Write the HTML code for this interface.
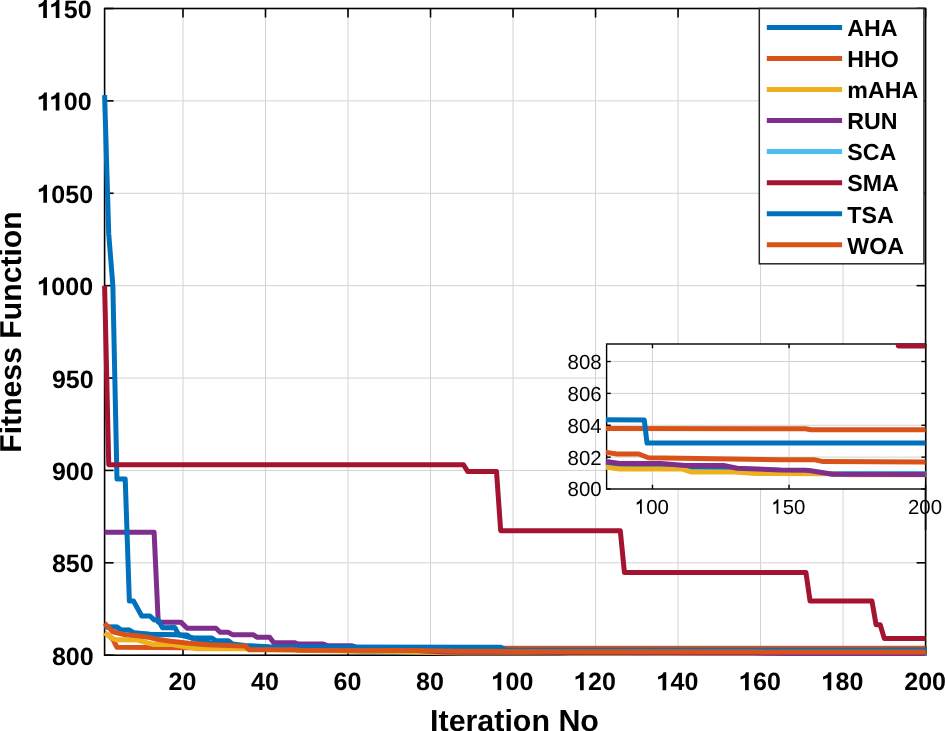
<!DOCTYPE html><html><head><meta charset="utf-8"><style>
html,body{margin:0;padding:0;background:#fff;width:945px;height:731px;overflow:hidden}
svg{display:block;will-change:transform}
text{font-family:"Liberation Sans",sans-serif;text-rendering:geometricPrecision}
.tk{font-weight:bold;font-size:25px;fill:#000}
.lg{font-weight:bold;font-size:23.2px;fill:#000}
.lb{font-weight:bold;font-size:30.4px;fill:#000}
.it{font-size:20.4px;fill:#000}
</style></head><body>
<svg width="945" height="731" viewBox="0 0 945 731">
<rect x="0" y="0" width="945" height="731" fill="#fff"/>
<defs><clipPath id="cm"><rect x="104.60" y="8.50" width="821.00" height="646.70"/></clipPath>
<clipPath id="ci"><rect x="605.90" y="343.20" width="320.40" height="146.60"/></clipPath></defs>
<line x1="182.99" y1="8.50" x2="182.99" y2="655.20" stroke="#d2d2d2" stroke-width="1"/>
<line x1="265.50" y1="8.50" x2="265.50" y2="655.20" stroke="#d2d2d2" stroke-width="1"/>
<line x1="348.01" y1="8.50" x2="348.01" y2="655.20" stroke="#d2d2d2" stroke-width="1"/>
<line x1="430.52" y1="8.50" x2="430.52" y2="655.20" stroke="#d2d2d2" stroke-width="1"/>
<line x1="513.04" y1="8.50" x2="513.04" y2="655.20" stroke="#d2d2d2" stroke-width="1"/>
<line x1="595.55" y1="8.50" x2="595.55" y2="655.20" stroke="#d2d2d2" stroke-width="1"/>
<line x1="678.06" y1="8.50" x2="678.06" y2="655.20" stroke="#d2d2d2" stroke-width="1"/>
<line x1="760.57" y1="8.50" x2="760.57" y2="655.20" stroke="#d2d2d2" stroke-width="1"/>
<line x1="843.09" y1="8.50" x2="843.09" y2="655.20" stroke="#d2d2d2" stroke-width="1"/>
<line x1="104.60" y1="562.81" x2="925.60" y2="562.81" stroke="#d2d2d2" stroke-width="1"/>
<line x1="104.60" y1="470.43" x2="925.60" y2="470.43" stroke="#d2d2d2" stroke-width="1"/>
<line x1="104.60" y1="378.04" x2="925.60" y2="378.04" stroke="#d2d2d2" stroke-width="1"/>
<line x1="104.60" y1="285.66" x2="925.60" y2="285.66" stroke="#d2d2d2" stroke-width="1"/>
<line x1="104.60" y1="193.27" x2="925.60" y2="193.27" stroke="#d2d2d2" stroke-width="1"/>
<line x1="104.60" y1="100.89" x2="925.60" y2="100.89" stroke="#d2d2d2" stroke-width="1"/>
<g stroke="#000" stroke-width="1.6" fill="none">
<rect x="104.60" y="8.50" width="821.00" height="646.70"/>
<line x1="182.99" y1="655.20" x2="182.99" y2="646.20"/>
<line x1="182.99" y1="8.50" x2="182.99" y2="17.50"/>
<line x1="265.50" y1="655.20" x2="265.50" y2="646.20"/>
<line x1="265.50" y1="8.50" x2="265.50" y2="17.50"/>
<line x1="348.01" y1="655.20" x2="348.01" y2="646.20"/>
<line x1="348.01" y1="8.50" x2="348.01" y2="17.50"/>
<line x1="430.52" y1="655.20" x2="430.52" y2="646.20"/>
<line x1="430.52" y1="8.50" x2="430.52" y2="17.50"/>
<line x1="513.04" y1="655.20" x2="513.04" y2="646.20"/>
<line x1="513.04" y1="8.50" x2="513.04" y2="17.50"/>
<line x1="595.55" y1="655.20" x2="595.55" y2="646.20"/>
<line x1="595.55" y1="8.50" x2="595.55" y2="17.50"/>
<line x1="678.06" y1="655.20" x2="678.06" y2="646.20"/>
<line x1="678.06" y1="8.50" x2="678.06" y2="17.50"/>
<line x1="760.57" y1="655.20" x2="760.57" y2="646.20"/>
<line x1="760.57" y1="8.50" x2="760.57" y2="17.50"/>
<line x1="843.09" y1="655.20" x2="843.09" y2="646.20"/>
<line x1="843.09" y1="8.50" x2="843.09" y2="17.50"/>
<line x1="925.60" y1="655.20" x2="925.60" y2="646.20"/>
<line x1="925.60" y1="8.50" x2="925.60" y2="17.50"/>
<line x1="104.60" y1="655.20" x2="113.60" y2="655.20"/>
<line x1="925.60" y1="655.20" x2="916.60" y2="655.20"/>
<line x1="104.60" y1="562.81" x2="113.60" y2="562.81"/>
<line x1="925.60" y1="562.81" x2="916.60" y2="562.81"/>
<line x1="104.60" y1="470.43" x2="113.60" y2="470.43"/>
<line x1="925.60" y1="470.43" x2="916.60" y2="470.43"/>
<line x1="104.60" y1="378.04" x2="113.60" y2="378.04"/>
<line x1="925.60" y1="378.04" x2="916.60" y2="378.04"/>
<line x1="104.60" y1="285.66" x2="113.60" y2="285.66"/>
<line x1="925.60" y1="285.66" x2="916.60" y2="285.66"/>
<line x1="104.60" y1="193.27" x2="113.60" y2="193.27"/>
<line x1="925.60" y1="193.27" x2="916.60" y2="193.27"/>
<line x1="104.60" y1="100.89" x2="113.60" y2="100.89"/>
<line x1="925.60" y1="100.89" x2="916.60" y2="100.89"/>
<line x1="104.60" y1="8.50" x2="113.60" y2="8.50"/>
<line x1="925.60" y1="8.50" x2="916.60" y2="8.50"/>
</g>
<g fill="none" stroke-width="5.0" stroke-linejoin="round" stroke-linecap="butt">
<path d="M104.60 633.03 L108.73 635.43 L112.85 639.31 L116.98 647.25 L224.24 647.90 L442.90 648.18 L744.07 648.22 L752.32 648.33 L925.60 648.33" stroke="#D95319"/>
<path d="M104.60 627.02 L116.98 627.02 L121.10 630.16 L129.35 630.16 L133.48 632.75 L149.98 634.41 L178.86 634.78 L191.24 637.74 L203.62 641.43 L224.24 646.79 L240.75 647.35 L286.13 649.19 L348.01 650.67 L381.02 651.78 L442.90 652.34 L574.92 652.71 L620.30 652.76 L640.93 652.98 L719.32 653.37 L925.60 653.39" stroke="#4DBEEE"/>
<path d="M104.60 626.93 L116.98 626.93 L121.10 630.07 L129.35 630.07 L133.48 632.66 L149.98 634.32 L178.86 634.69 L191.24 637.65 L203.62 641.34 L224.24 646.70 L240.75 647.25 L286.13 649.10 L348.01 650.58 L381.02 651.69 L442.90 652.24 L574.92 652.61 L620.30 652.67 L640.93 652.89 L706.94 653.17 L760.57 653.35 L801.83 653.48 L925.60 653.50" stroke="#0072BD"/>
<path d="M104.60 633.03 L112.85 638.57 L116.98 639.86 L137.61 640.05 L149.98 643.56 L154.11 644.48 L171.85 644.48 L197.01 648.73 L244.87 648.73 L306.76 650.40 L393.39 651.50 L442.90 652.69 L463.53 652.89 L558.42 652.89 L570.80 653.22 L636.81 653.22 L669.81 653.41 L781.20 653.43 L810.08 653.54 L925.60 653.54" stroke="#EDB120"/>
<path d="M104.60 532.14 L154.11 532.14 L158.23 622.13 L180.92 622.13 L187.11 628.22 L215.99 628.22 L220.12 632.29 L228.37 632.29 L232.49 634.69 L253.12 634.69 L257.25 637.28 L269.63 637.28 L273.75 642.64 L294.38 642.64 L298.50 644.11 L323.26 644.11 L327.38 645.59 L352.14 645.78 L356.26 647.25 L372.77 647.81 L409.90 650.03 L442.90 652.02 L463.53 652.24 L525.41 652.24 L562.54 652.47 L620.30 652.47 L640.93 652.80 L706.94 653.00 L744.07 653.04 L752.32 653.08 L785.33 653.50 L925.60 653.52" stroke="#7E2F8E"/>
<path d="M104.60 95.16 L108.73 233.92 L112.85 285.66 L116.98 479.11 L125.23 479.11 L129.35 601.06 L133.48 601.06 L141.73 616.03 L149.98 616.03 L154.11 619.91 L158.23 619.91 L162.36 627.67 L174.74 627.48 L178.86 634.88 L187.11 634.88 L191.24 638.02 L211.87 638.02 L215.99 640.79 L228.37 640.79 L232.49 643.93 L244.87 645.59 L269.63 646.70 L298.50 647.07 L500.66 647.20 L504.79 649.88 L925.60 649.88" stroke="#0072BD"/>
<path d="M104.60 285.66 L108.73 464.70 L463.53 464.70 L467.66 471.54 L496.53 471.54 L500.66 530.66 L620.30 530.66 L624.43 572.61 L805.96 572.61 L810.08 601.06 L871.97 601.06 L876.09 624.71 L880.22 624.71 L884.34 638.61 L925.60 638.61" stroke="#A2142F"/>
<path d="M104.60 623.23 L112.85 631.73 L125.23 634.88 L137.61 635.80 L149.98 637.65 L154.93 638.94 L170.61 641.34 L188.76 643.19 L207.74 644.67 L234.97 645.78 L244.87 645.96 L249.00 649.66 L294.38 649.84 L298.50 650.30 L418.15 650.49 L442.90 650.95 L459.40 651.14 L492.41 651.14 L506.85 651.58 L706.94 651.80 L758.51 651.82 L770.89 652.02 L925.60 652.06" stroke="#D95319"/>
</g>
<text class="tk" x="182.49" y="690.2" text-anchor="middle">20</text>
<text class="tk" x="265.00" y="690.2" text-anchor="middle">40</text>
<text class="tk" x="347.51" y="690.2" text-anchor="middle">60</text>
<text class="tk" x="430.02" y="690.2" text-anchor="middle">80</text>
<text class="tk" x="491.68 505.57 519.48" y="690.2"> 00</text><path d="M480 0H780V1475H560C530 1390 470 1305 390 1255C310 1205 210 1150 110 1130V870C240 895 370 950 480 1010Z" transform="translate(491.68 690.20) scale(0.01221 -0.01221)"/>
<text class="tk" x="574.19 588.08 601.99" y="690.2"> 20</text><path d="M480 0H780V1475H560C530 1390 470 1305 390 1255C310 1205 210 1150 110 1130V870C240 895 370 950 480 1010Z" transform="translate(574.19 690.20) scale(0.01221 -0.01221)"/>
<text class="tk" x="656.70 670.59 684.50" y="690.2"> 40</text><path d="M480 0H780V1475H560C530 1390 470 1305 390 1255C310 1205 210 1150 110 1130V870C240 895 370 950 480 1010Z" transform="translate(656.70 690.20) scale(0.01221 -0.01221)"/>
<text class="tk" x="739.21 753.10 767.01" y="690.2"> 60</text><path d="M480 0H780V1475H560C530 1390 470 1305 390 1255C310 1205 210 1150 110 1130V870C240 895 370 950 480 1010Z" transform="translate(739.21 690.20) scale(0.01221 -0.01221)"/>
<text class="tk" x="821.73 835.62 849.53" y="690.2"> 80</text><path d="M480 0H780V1475H560C530 1390 470 1305 390 1255C310 1205 210 1150 110 1130V870C240 895 370 950 480 1010Z" transform="translate(821.73 690.20) scale(0.01221 -0.01221)"/>
<text class="tk" x="925.10" y="690.2" text-anchor="middle">200</text>
<text class="tk" x="93.70" y="664.80" text-anchor="end">800</text>
<text class="tk" x="93.70" y="572.41" text-anchor="end">850</text>
<text class="tk" x="93.70" y="480.03" text-anchor="end">900</text>
<text class="tk" x="93.70" y="387.64" text-anchor="end">950</text>
<text class="tk" x="37.47 51.37 65.27 79.18" y="295.26"> 000</text><path d="M480 0H780V1475H560C530 1390 470 1305 390 1255C310 1205 210 1150 110 1130V870C240 895 370 950 480 1010Z" transform="translate(37.47 295.26) scale(0.01221 -0.01221)"/>
<text class="tk" x="37.47 51.37 65.27 79.18" y="202.87"> 050</text><path d="M480 0H780V1475H560C530 1390 470 1305 390 1255C310 1205 210 1150 110 1130V870C240 895 370 950 480 1010Z" transform="translate(37.47 202.87) scale(0.01221 -0.01221)"/>
<text class="tk" x="37.35 49.87 63.77 77.68" y="110.49">  00</text><path d="M480 0H780V1475H560C530 1390 470 1305 390 1255C310 1205 210 1150 110 1130V870C240 895 370 950 480 1010Z" transform="translate(37.35 110.49) scale(0.01221 -0.01221)"/><path d="M480 0H780V1475H560C530 1390 470 1305 390 1255C310 1205 210 1150 110 1130V870C240 895 370 950 480 1010Z" transform="translate(49.87 110.49) scale(0.01221 -0.01221)"/>
<text class="tk" x="37.35 49.87 63.77 77.68" y="18.10">  50</text><path d="M480 0H780V1475H560C530 1390 470 1305 390 1255C310 1205 210 1150 110 1130V870C240 895 370 950 480 1010Z" transform="translate(37.35 18.10) scale(0.01221 -0.01221)"/><path d="M480 0H780V1475H560C530 1390 470 1305 390 1255C310 1205 210 1150 110 1130V870C240 895 370 950 480 1010Z" transform="translate(49.87 18.10) scale(0.01221 -0.01221)"/>
<text class="lb" x="514.5" y="731" text-anchor="middle">Iteration No</text>
<text class="lb" x="0" y="0" text-anchor="middle" style="font-size:30.2px" transform="translate(20.9 332.0) rotate(-90)">Fitness Function</text>
<rect x="759.30" y="8.50" width="164.65" height="255.30" fill="#fff" stroke="#262626" stroke-width="1.5"/>
<line x1="766.8" y1="27.40" x2="842.1" y2="27.40" stroke="#0072BD" stroke-width="5"/>
<text class="lg" transform="translate(847.3 36.20)">AHA</text>
<line x1="766.8" y1="58.45" x2="842.1" y2="58.45" stroke="#D95319" stroke-width="5"/>
<text class="lg" transform="translate(847.3 67.25)">HHO</text>
<line x1="766.8" y1="89.50" x2="842.1" y2="89.50" stroke="#EDB120" stroke-width="5"/>
<text class="lg" transform="translate(847.3 98.30)">mAHA</text>
<line x1="766.8" y1="120.55" x2="842.1" y2="120.55" stroke="#7E2F8E" stroke-width="5"/>
<text class="lg" transform="translate(847.3 129.35)">RUN</text>
<line x1="766.8" y1="151.60" x2="842.1" y2="151.60" stroke="#4DBEEE" stroke-width="5"/>
<text class="lg" transform="translate(847.3 160.40)">SCA</text>
<line x1="766.8" y1="182.65" x2="842.1" y2="182.65" stroke="#A2142F" stroke-width="5"/>
<text class="lg" transform="translate(847.3 191.45)">SMA</text>
<line x1="766.8" y1="213.70" x2="842.1" y2="213.70" stroke="#0072BD" stroke-width="5"/>
<text class="lg" transform="translate(847.3 222.50)">TSA</text>
<line x1="766.8" y1="244.75" x2="842.1" y2="244.75" stroke="#D95319" stroke-width="5"/>
<text class="lg" transform="translate(847.3 253.55)">WOA</text>
<rect x="606.60" y="344.00" width="319.00" height="145.00" fill="#fff"/>
<line x1="652.48" y1="344.00" x2="652.48" y2="489.00" stroke="#d2d2d2" stroke-width="1"/>
<line x1="789.04" y1="344.00" x2="789.04" y2="489.00" stroke="#d2d2d2" stroke-width="1"/>
<line x1="606.60" y1="457.13" x2="925.60" y2="457.13" stroke="#d2d2d2" stroke-width="1"/>
<line x1="606.60" y1="425.26" x2="925.60" y2="425.26" stroke="#d2d2d2" stroke-width="1"/>
<line x1="606.60" y1="393.40" x2="925.60" y2="393.40" stroke="#d2d2d2" stroke-width="1"/>
<line x1="606.60" y1="361.53" x2="925.60" y2="361.53" stroke="#d2d2d2" stroke-width="1"/>
<g stroke="#000" stroke-width="1.4" fill="none">
<rect x="606.60" y="344.00" width="319.00" height="145.00"/>
<line x1="652.48" y1="489.00" x2="652.48" y2="484.80"/>
<line x1="652.48" y1="344.00" x2="652.48" y2="348.20"/>
<line x1="789.04" y1="489.00" x2="789.04" y2="484.80"/>
<line x1="789.04" y1="344.00" x2="789.04" y2="348.20"/>
<line x1="925.60" y1="489.00" x2="925.60" y2="484.80"/>
<line x1="925.60" y1="344.00" x2="925.60" y2="348.20"/>
<line x1="606.60" y1="489.00" x2="610.80" y2="489.00"/>
<line x1="925.60" y1="489.00" x2="921.40" y2="489.00"/>
<line x1="606.60" y1="457.13" x2="610.80" y2="457.13"/>
<line x1="925.60" y1="457.13" x2="921.40" y2="457.13"/>
<line x1="606.60" y1="425.26" x2="610.80" y2="425.26"/>
<line x1="925.60" y1="425.26" x2="921.40" y2="425.26"/>
<line x1="606.60" y1="393.40" x2="610.80" y2="393.40"/>
<line x1="925.60" y1="393.40" x2="921.40" y2="393.40"/>
<line x1="606.60" y1="361.53" x2="610.80" y2="361.53"/>
<line x1="925.60" y1="361.53" x2="921.40" y2="361.53"/>
</g>
<g clip-path="url(#ci)" fill="none" stroke-width="5.0" stroke-linejoin="round" stroke-linecap="butt">
<path d="M382.10 297.79 L384.83 318.51 L387.56 351.97 L390.29 420.48 L461.30 426.06 L606.05 428.45 L805.43 428.77 L810.89 429.73 L925.60 429.73" stroke="#D95319"/>
<path d="M382.10 246.01 L390.29 246.01 L393.02 273.09 L398.49 273.09 L401.22 295.40 L412.14 309.74 L431.26 312.93 L439.45 338.42 L447.65 370.29 L461.30 416.50 L472.23 421.28 L502.27 437.21 L543.24 449.96 L565.09 459.52 L606.05 464.30 L693.45 467.49 L723.49 467.97 L737.15 469.88 L789.04 473.23 L925.60 473.38" stroke="#4DBEEE"/>
<path d="M382.10 245.21 L390.29 245.21 L393.02 272.30 L398.49 272.30 L401.22 294.60 L412.14 308.95 L431.26 312.13 L439.45 337.63 L447.65 369.49 L461.30 415.70 L472.23 420.48 L502.27 436.42 L543.24 449.16 L565.09 458.73 L606.05 463.51 L693.45 466.69 L723.49 467.17 L737.15 469.08 L780.85 471.47 L816.35 473.07 L843.67 474.18 L925.60 474.34" stroke="#0072BD"/>
<path d="M382.10 297.79 L387.56 345.59 L390.29 356.75 L403.95 358.34 L412.14 388.62 L414.87 396.58 L426.62 396.58 L443.28 433.23 L474.96 433.23 L515.93 447.57 L573.28 457.13 L606.05 467.33 L619.71 469.08 L682.53 469.08 L690.72 471.95 L734.42 471.95 L756.27 473.54 L830.01 473.70 L849.13 474.66 L925.60 474.66" stroke="#EDB120"/>
<path d="M382.10 -572.21 L414.87 -572.21 L417.60 203.78 L432.62 203.78 L436.72 256.36 L455.84 256.36 L458.57 291.42 L464.03 291.42 L466.76 312.13 L480.42 312.13 L483.15 334.44 L491.34 334.44 L494.08 380.65 L507.73 380.65 L510.46 393.40 L526.85 393.40 L529.58 406.14 L545.97 407.74 L548.70 420.48 L559.62 425.26 L584.20 444.38 L606.05 461.59 L619.71 463.51 L660.68 463.51 L685.26 465.42 L723.49 465.42 L737.15 468.29 L780.85 470.04 L805.43 470.36 L810.89 470.68 L832.74 474.34 L925.60 474.50" stroke="#7E2F8E"/>
<path d="M382.10 -4340.62 L384.83 -3143.97 L387.56 -2697.81 L390.29 -1029.52 L395.75 -1029.52 L398.49 22.13 L401.22 22.13 L406.68 151.20 L412.14 151.20 L414.87 184.66 L417.60 184.66 L420.33 251.58 L428.53 249.99 L431.26 313.73 L436.72 313.73 L439.45 340.81 L453.11 340.81 L455.84 364.71 L464.03 364.71 L466.76 391.80 L474.96 406.14 L491.34 415.70 L510.46 418.89 L644.29 420.01 L647.02 443.11 L925.60 443.11" stroke="#0072BD"/>
<path d="M382.10 -2697.81 L384.83 -1153.80 L619.71 -1153.80 L622.44 -1094.85 L641.56 -1094.85 L644.29 -584.96 L723.49 -584.96 L726.23 -223.25 L846.40 -223.25 L849.13 22.13 L890.09 22.13 L892.83 226.09 L895.56 226.09 L898.29 345.91 L925.60 345.91" stroke="#A2142F"/>
<path d="M382.10 213.34 L387.56 286.64 L395.75 313.73 L403.95 321.69 L412.14 337.63 L415.42 348.78 L425.80 369.49 L437.81 385.43 L450.38 398.18 L468.40 407.74 L474.96 409.33 L477.69 441.20 L507.73 442.79 L510.46 446.77 L589.67 448.37 L606.05 452.35 L616.98 453.95 L638.83 453.95 L648.39 457.77 L780.85 459.68 L814.99 459.84 L823.18 461.59 L925.60 461.91" stroke="#D95319"/>
</g>
<text class="it" x="634.86 646.19 657.54" y="513.7"> 00</text><path d="M515 0H696V1456H570C540 1370 470 1290 380 1230C320 1190 255 1150 190 1120V900C320 950 430 1010 515 1070Z" transform="translate(634.86 513.70) scale(0.00996 -0.00996)"/>
<text class="it" x="771.42 782.75 794.10" y="513.7"> 50</text><path d="M515 0H696V1456H570C540 1370 470 1290 380 1230C320 1190 255 1150 190 1120V900C320 950 430 1010 515 1070Z" transform="translate(771.42 513.70) scale(0.00996 -0.00996)"/>
<text class="it" x="925.00" y="513.7" text-anchor="middle">200</text>
<text class="it" x="601.6" y="496.40" text-anchor="end">800</text>
<text class="it" x="601.6" y="464.53" text-anchor="end">802</text>
<text class="it" x="601.6" y="432.66" text-anchor="end">804</text>
<text class="it" x="601.6" y="400.80" text-anchor="end">806</text>
<text class="it" x="601.6" y="368.93" text-anchor="end">808</text>
<line x1="925.60" y1="489.00" x2="925.60" y2="530.00" stroke="#000" stroke-width="1.6"/>
</svg></body></html>
